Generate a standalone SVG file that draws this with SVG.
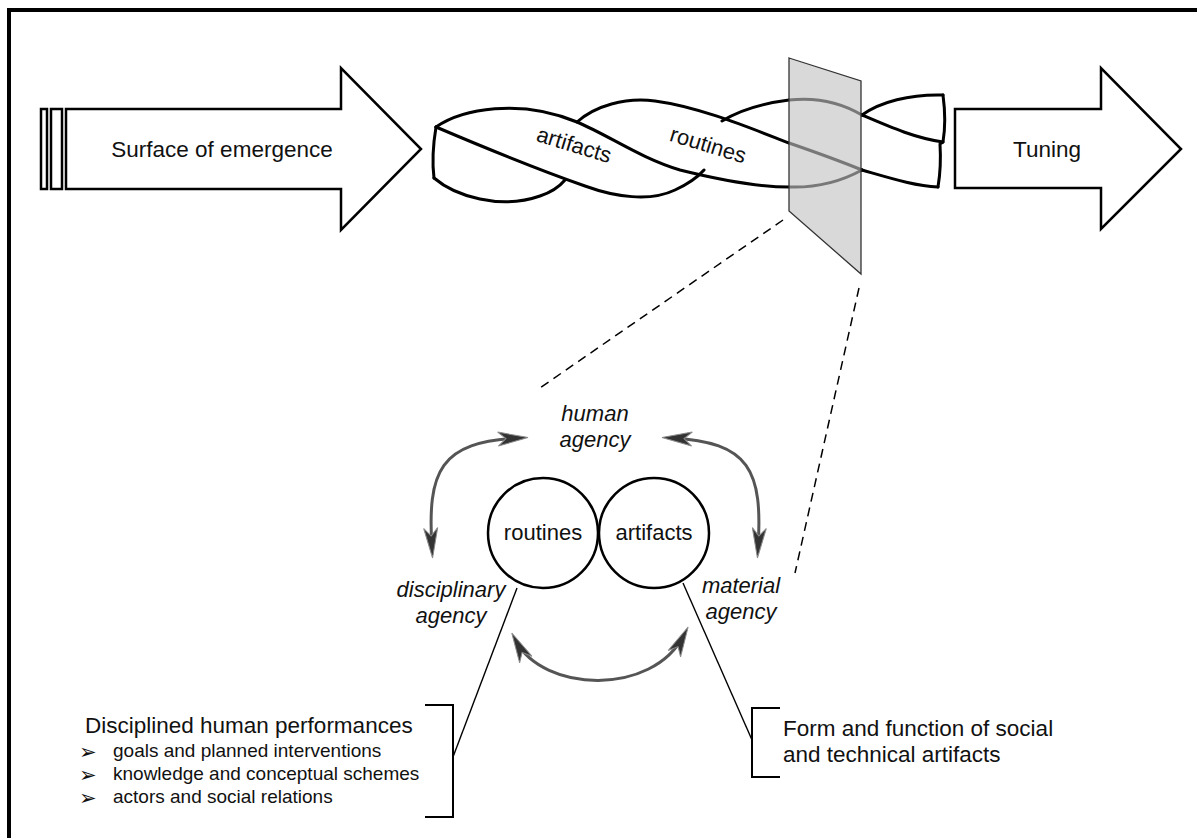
<svg xmlns="http://www.w3.org/2000/svg" width="1197" height="838" viewBox="0 0 1197 838">
<style>
.t{font-family:"Liberation Sans",Arial,sans-serif;fill:#111}
.it{font-family:"Liberation Sans",Arial,sans-serif;font-style:italic;fill:#111;font-size:22px;text-anchor:middle}
.blk{fill:#fff;stroke:#000;stroke-width:2.5;stroke-linejoin:miter}
.rib{fill:none;stroke:#000;stroke-width:3;stroke-linecap:round;stroke-linejoin:round}
.dash{fill:none;stroke:#000;stroke-width:1.5;stroke-dasharray:9 6}
.lead{fill:none;stroke:#000;stroke-width:1.4}
.brk{fill:none;stroke:#000;stroke-width:2}
.bul{font-family:"DejaVu Sans",sans-serif;fill:#111;font-size:21px}
.curv{fill:none;stroke:#555;stroke-width:3;marker-start:url(#ah);marker-end:url(#ah)}
</style>
<defs>
<marker id="ah" viewBox="-33 -9 35 18" refX="-9" refY="0" markerWidth="35" markerHeight="18" markerUnits="userSpaceOnUse" orient="auto-start-reverse">
<path d="M0,0 L-30,-7 L-22,0 L-30,7 Z" fill="#333" stroke="#8a8a8a" stroke-width="1"/>
</marker>
</defs>
<rect width="1197" height="838" fill="#fff"/>
<rect x="9" y="10" width="1230" height="900" fill="none" stroke="#000" stroke-width="4"/>

<g id="surface-arrow">
<rect class="blk" x="41" y="109" width="6" height="80"/>
<rect class="blk" x="51" y="109" width="11" height="80"/>
<polygon class="blk" points="66,109 341,109 341,68 421,149 341,230 341,189 66,189"/>
<text class="t" x="222" y="157" font-size="22.5" text-anchor="middle">Surface of emergence</text>
</g>

<g id="tuning-arrow">
<polygon class="blk" points="955,109 1101,109 1101,68 1181,149 1101,229 1101,188 955,188"/>
<text class="t" x="1047" y="157" font-size="22.5" text-anchor="middle">Tuning</text>
</g>

<g id="ribbon">
<path class="rib" d="M436,127 C433,145 432,162 434,178"/>
<path class="rib" d="M436,127 C462,109 520,98 577,122 C610,136 640,158 680,170 C720,180 760,187 789,187 C815,188 840,182 862,170"/>
<path class="rib" d="M436,127 C490,150 545,172 585,186 C615,197 650,202 675,190 C688,184 697,178 704,170"/>
<path class="rib" d="M434,178 C455,196 500,210 540,196 C552,192 560,186 565,180"/>
<path class="rib" d="M577,122 C595,106 625,97 655,101 C700,107 750,128 789,143 C815,152 840,161 862,170"/>
<path class="rib" d="M722,121 C740,110 765,103 789,100 C815,97 840,102 862,115"/>
<path class="rib" d="M862,170 C890,178 915,186 938,187"/>
<path class="rib" d="M862,115 C880,102 910,94 943,95"/>
<path class="rib" d="M862,115 C890,127 915,138 943,142"/>
<path class="rib" d="M943,95 C945,110 945,130 943,142 L940,144 C941,160 940,175 938,187"/>
<text class="t" font-size="22" text-anchor="middle" transform="translate(572,152) rotate(17)">artifacts</text>
<text class="t" font-size="22" text-anchor="middle" transform="translate(706,152) rotate(17)">routines</text>
</g>

<g id="plane">
<polygon points="789,58 861,81 861,274 789,211" fill="#c2c2c2" fill-opacity="0.62" stroke="#333" stroke-width="1.3"/>
</g>

<g id="connectors">
<path class="dash" d="M783,220 L537,390"/>
<path class="dash" d="M859,288 L795,573"/>
<path class="curv" d="M432,549 C427,470 440,442 519,438"/>
<path class="curv" d="M758,549 C763,470 750,442 671,438"/>
<path class="curv" d="M516,641 C543,692 652,697 684,635"/>
<path class="lead" d="M517,588 L453,757"/>
<path class="lead" d="M683,583 L752,740"/>
</g>

<g id="human-agency">
<text class="it" x="595" y="421">human</text>
<text class="it" x="595" y="447">agency</text>
</g>
<g id="disciplinary-agency">
<text class="it" x="451" y="597">disciplinary</text>
<text class="it" x="451" y="623">agency</text>
</g>
<g id="material-agency">
<text class="it" x="741" y="593">material</text>
<text class="it" x="741" y="619">agency</text>
</g>

<g id="routines-circle">
<circle cx="543" cy="533" r="55" fill="#fff" stroke="#000" stroke-width="2.5"/>
<text class="t" x="543" y="540" font-size="22" text-anchor="middle">routines</text>
</g>
<g id="artifacts-circle">
<circle cx="654" cy="533" r="55" fill="#fff" stroke="#000" stroke-width="2.5"/>
<text class="t" x="654" y="540" font-size="22" text-anchor="middle">artifacts</text>
</g>

<g id="performances">
<path class="brk" d="M425,705 L453,705 L453,817 L425,817"/>
<text class="t" x="85" y="733" font-size="22.5">Disciplined human performances</text>
<text class="bul" x="79" y="759">➢</text>
<text class="t" x="113" y="757" font-size="19">goals and planned interventions</text>
<text class="bul" x="79" y="782">➢</text>
<text class="t" x="113" y="780" font-size="19">knowledge and conceptual schemes</text>
<text class="bul" x="79" y="805">➢</text>
<text class="t" x="113" y="803" font-size="19">actors and social relations</text>
</g>

<g id="form-function">
<path class="brk" d="M780,708 L752,708 L752,777 L780,777"/>
<text class="t" x="783" y="736" font-size="22.5">Form and function of social</text>
<text class="t" x="783" y="762" font-size="22.5">and technical artifacts</text>
</g>
</svg>
